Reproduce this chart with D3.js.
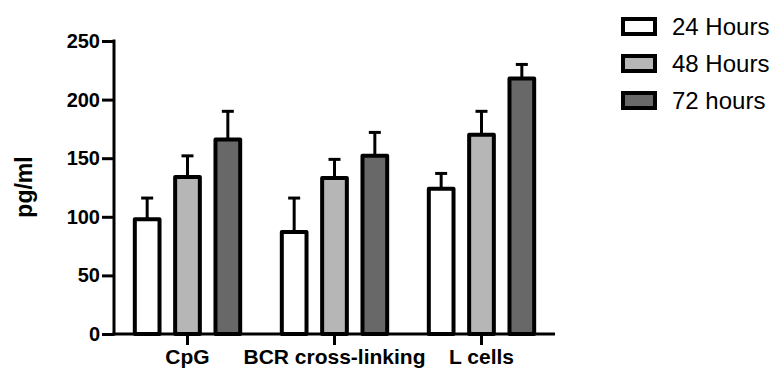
<!DOCTYPE html>
<html>
<head>
<meta charset="utf-8">
<script src="https://cdn.jsdelivr.net/npm/d3@7"></script>
<style>
  html, body { margin: 0; padding: 0; background: #fff; }
  svg { display: block; }
  svg text { font-family: "Liberation Sans", Arial, Helvetica, sans-serif; }
</style>
</head>
<body>
<svg id="chart" width="773" height="370"></svg>
<script>
// Stimulation conditions along the x axis
const categories = ["CpG", "BCR cross-linking", "L cells"];
// Time points shown as grouped bars
const series = ["24 Hours", "48 Hours", "72 hours"];
// Mean concentration (pg/ml), one array per time point, in category order
const mean24 = [98, 87, 124];
const mean48 = [134, 133, 170];
const mean72 = [166, 152, 218];
// Upper error (pg/ml), same order
const err24 = [18, 29, 13];
const err48 = [18, 16, 20];
const err72 = [24, 20, 12];
// Y axis ticks
const yTicks = [0, 50, 100, 150, 200, 250];

const means = [mean24, mean48, mean72];
const errs = [err24, err48, err72];
const fills = ["#ffffff", "#b6b6b6", "#686868"];

const svg = d3.select("#chart");

const y = d3.scaleLinear().domain([0, 250]).range([334, 41]);
const x0 = d3.scaleBand().domain(categories).range([114, 555]).padding(0);
const x1 = d3.scaleBand().domain(series).range([0, x0.bandwidth()])
  .paddingInner(0.3875).paddingOuter(0.516);
const color = d3.scaleOrdinal().domain(series).range(fills);

const rows = [];
categories.forEach((c, ci) => {
  series.forEach((s, si) => {
    rows.push({ cat: c, ser: s, v: means[si][ci], e: errs[si][ci] });
  });
});

// Error bars (drawn first so bar outlines sit on top)
const eb = svg.append("g").attr("stroke", "#000").attr("stroke-width", 3).attr("fill", "none");
rows.forEach(d => {
  const cx = x0(d.cat) + x1(d.ser) + x1.bandwidth() / 2;
  eb.append("line").attr("x1", cx).attr("x2", cx)
    .attr("y1", y(d.v)).attr("y2", y(d.v + d.e));
  eb.append("line").attr("x1", cx - 6).attr("x2", cx + 6)
    .attr("y1", y(d.v + d.e)).attr("y2", y(d.v + d.e));
});

// Bars
svg.append("g").selectAll("rect").data(rows).join("rect")
  .attr("x", d => x0(d.cat) + x1(d.ser))
  .attr("y", d => y(d.v))
  .attr("width", x1.bandwidth())
  .attr("height", d => y(0) - y(d.v))
  .attr("fill", d => color(d.ser))
  .attr("stroke", "#000")
  .attr("stroke-width", 4)
  .attr("stroke-linejoin", "round");

const FONT = '"Liberation Sans", Arial, Helvetica, sans-serif';

// Y axis
const yAxis = svg.append("g").attr("transform", "translate(114,0)")
  .call(d3.axisLeft(y).tickValues(yTicks).tickSize(12).tickPadding(2).tickFormat(d3.format("d")));
yAxis.attr("font-family", FONT);
yAxis.select(".domain").remove();
yAxis.append("line").attr("x1", 0).attr("x2", 0).attr("y1", y(250) - 1.5).attr("y2", y(0) + 1.5)
  .attr("stroke", "#000").attr("stroke-width", 3);
yAxis.selectAll(".tick line").attr("stroke", "#000").attr("stroke-width", 3);
yAxis.selectAll(".tick text").attr("fill", "#000")
  .style("font-size", "20px").style("font-weight", "bold");

// X axis
const xAxis = svg.append("g").attr("transform", `translate(0,${y(0)})`)
  .call(d3.axisBottom(x0).tickSize(11).tickPadding(4));
xAxis.attr("font-family", FONT);
xAxis.select(".domain").remove();
xAxis.append("line").attr("x1", 112.5).attr("x2", 555).attr("y1", 0).attr("y2", 0)
  .attr("stroke", "#000").attr("stroke-width", 3);
xAxis.selectAll(".tick line").attr("stroke", "#000").attr("stroke-width", 3);
xAxis.selectAll(".tick text").attr("fill", "#000")
  .style("font-size", "21px").style("font-weight", "bold");

// Y axis title
svg.append("text")
  .attr("transform", "translate(32,187) rotate(-90)")
  .attr("text-anchor", "middle")
  .style("font-size", "23px").style("font-weight", "bold")
  .text("pg/ml");

// Legend
const legend = svg.append("g").selectAll("g").data(series).join("g")
  .attr("transform", (d, i) => `translate(623,${27 + i * 37})`);
legend.append("rect")
  .attr("x", 0).attr("y", -8).attr("width", 32).attr("height", 15)
  .attr("fill", d => color(d)).attr("stroke", "#000").attr("stroke-width", 4);
legend.append("text")
  .attr("x", 49).attr("y", 8)
  .style("font-size", "24px")
  .text(d => d);
</script>
</body>
</html>
